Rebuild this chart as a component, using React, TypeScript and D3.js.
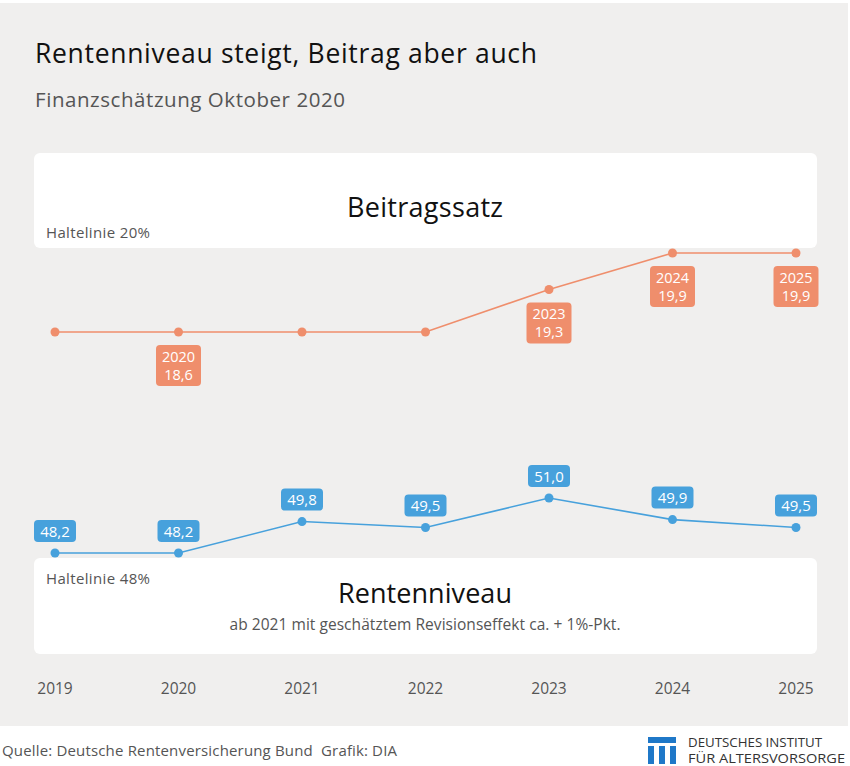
import React, { useEffect, useRef } from "react";
import * as d3 from "d3";

const years = ["2019", "2020", "2021", "2022", "2023", "2024", "2025"];
const beitragssatz = [18.6, 18.6, 18.6, 18.6, 19.3, 19.9, 19.9];
const beitragLabelled = ["2020", "2023", "2024", "2025"];
const rentenniveau = [48.2, 48.2, 49.8, 49.5, 51.0, 49.9, 49.5];

const ORANGE = "#ef8e6c";
const BLUE = "#47a1dc";
const FONT = "'Open Sans', Lato, sans-serif";

const fmt = (v: number) => d3.format(".1f")(v).replace(".", ",");

const App = () => {
  const svgRef = useRef<SVGSVGElement>(null);

  useEffect(() => {
    const width = 850;
    const height = 766;
    const svg = d3.select(svgRef.current);
    svg.selectAll("*").remove();
    svg.attr("width", width).attr("height", height).style("font-family", FONT);

    // background
    svg.append("rect").attr("width", width).attr("height", height).attr("fill", "#fff");
    svg.append("rect").attr("x", 0).attr("y", 3).attr("width", 848).attr("height", 723).attr("fill", "#f0efee");

    // textLength keeps the wide look of the original font
    svg.append("text").attr("x", 35).attr("y", 63).attr("font-size", 26.5).attr("fill", "#111")
      .attr("textLength", 502).text("Rentenniveau steigt, Beitrag aber auch");
    svg.append("text").attr("x", 35).attr("y", 107).attr("font-size", 20.5).attr("fill", "#555")
      .attr("textLength", 310).text("Finanzschätzung Oktober 2020");

    const x = d3.scalePoint().domain(years).range([55, 796]);
    const yTop = d3.scaleLinear().domain([18.6, 19.9]).range([332, 253]);
    const yBot = d3.scaleLinear().domain([48.2, 51.0]).range([553, 498]);

    // white panels
    svg.append("rect").attr("x", 34).attr("y", 153).attr("width", 783).attr("height", 95).attr("rx", 6).attr("fill", "#fff");
    svg.append("rect").attr("x", 34).attr("y", 558).attr("width", 783).attr("height", 96).attr("rx", 6).attr("fill", "#fff");

    svg.append("text").attr("x", 425).attr("y", 217).attr("text-anchor", "middle").attr("font-size", 27).attr("fill", "#111")
      .attr("textLength", 156).text("Beitragssatz");
    svg.append("text").attr("x", 46).attr("y", 238).attr("font-size", 15).attr("fill", "#555")
      .attr("textLength", 104).text("Haltelinie 20%");

    svg.append("text").attr("x", 46).attr("y", 584).attr("font-size", 15).attr("fill", "#555")
      .attr("textLength", 104).text("Haltelinie 48%");
    svg.append("text").attr("x", 425).attr("y", 603).attr("text-anchor", "middle").attr("font-size", 27).attr("fill", "#111")
      .attr("textLength", 174).text("Rentenniveau");
    svg.append("text").attr("x", 425).attr("y", 630).attr("text-anchor", "middle").attr("font-size", 15.5).attr("fill", "#555")
      .attr("textLength", 391).text("ab 2021 mit geschätztem Revisionseffekt ca. + 1%-Pkt.");

    // Beitragssatz line
    const top = years.map((yr, i) => ({ yr, v: beitragssatz[i] }));
    svg.append("path").datum(top)
      .attr("d", d3.line<any>().x(d => x(d.yr)!).y(d => yTop(d.v)))
      .attr("fill", "none").attr("stroke", ORANGE).attr("stroke-width", 1.6);
    svg.selectAll(".dotTop").data(top).join("circle")
      .attr("cx", d => x(d.yr)!).attr("cy", d => yTop(d.v)).attr("r", 4.5).attr("fill", ORANGE);

    const topLab = svg.selectAll(".labTop").data(top.filter(d => beitragLabelled.includes(d.yr))).join("g")
      .attr("transform", d => `translate(${x(d.yr)},${yTop(d.v) + 13})`);
    topLab.append("rect").attr("x", -22.5).attr("y", 0).attr("width", 45).attr("height", 41).attr("rx", 4).attr("fill", ORANGE);
    topLab.append("text").attr("y", 17).attr("text-anchor", "middle").attr("font-size", 14.5).attr("fill", "#fff").text(d => d.yr);
    topLab.append("text").attr("y", 35).attr("text-anchor", "middle").attr("font-size", 14.5).attr("fill", "#fff").text(d => fmt(d.v));

    // Rentenniveau line
    const bot = years.map((yr, i) => ({ yr, v: rentenniveau[i] }));
    svg.append("path").datum(bot)
      .attr("d", d3.line<any>().x(d => x(d.yr)!).y(d => yBot(d.v)))
      .attr("fill", "none").attr("stroke", BLUE).attr("stroke-width", 1.6);
    svg.selectAll(".dotBot").data(bot).join("circle")
      .attr("cx", d => x(d.yr)!).attr("cy", d => yBot(d.v)).attr("r", 4.5).attr("fill", BLUE);

    const botLab = svg.selectAll(".labBot").data(bot).join("g")
      .attr("transform", d => `translate(${x(d.yr)},${yBot(d.v) - 33})`);
    botLab.append("rect").attr("x", -21).attr("y", 0).attr("width", 42).attr("height", 22).attr("rx", 4).attr("fill", BLUE);
    botLab.append("text").attr("y", 16.5).attr("text-anchor", "middle").attr("font-size", 15).attr("fill", "#fff").text(d => fmt(d.v));

    // x axis labels
    svg.selectAll(".xlab").data(years).join("text")
      .attr("x", d => x(d)!).attr("y", 694).attr("text-anchor", "middle").attr("font-size", 15.5).attr("fill", "#555")
      .text(d => d);

    // footer
    svg.append("text").attr("x", 2).attr("y", 756).attr("font-size", 15).attr("fill", "#555")
      .attr("xml:space", "preserve").attr("textLength", 395)
      .text("Quelle: Deutsche Rentenversicherung Bund  Grafik: DIA");
    const logo = svg.append("g").attr("fill", "#1f78c8");
    logo.append("rect").attr("x", 648).attr("y", 737).attr("width", 28).attr("height", 6);
    [648, 659, 670].forEach(bx => logo.append("rect").attr("x", bx).attr("y", 746).attr("width", 6).attr("height", 18));
    svg.append("text").attr("x", 688).attr("y", 747).attr("font-size", 12).attr("fill", "#333")
      .attr("textLength", 134).attr("lengthAdjust", "spacingAndGlyphs").text("DEUTSCHES INSTITUT");
    svg.append("text").attr("x", 688).attr("y", 763).attr("font-size", 12).attr("fill", "#333")
      .attr("textLength", 157).attr("lengthAdjust", "spacingAndGlyphs").text("FÜR ALTERSVORSORGE");
  }, []);

  return <svg ref={svgRef} style={{ position: "absolute", left: 0, top: 0, display: "block" }} />;
};

export default App;
